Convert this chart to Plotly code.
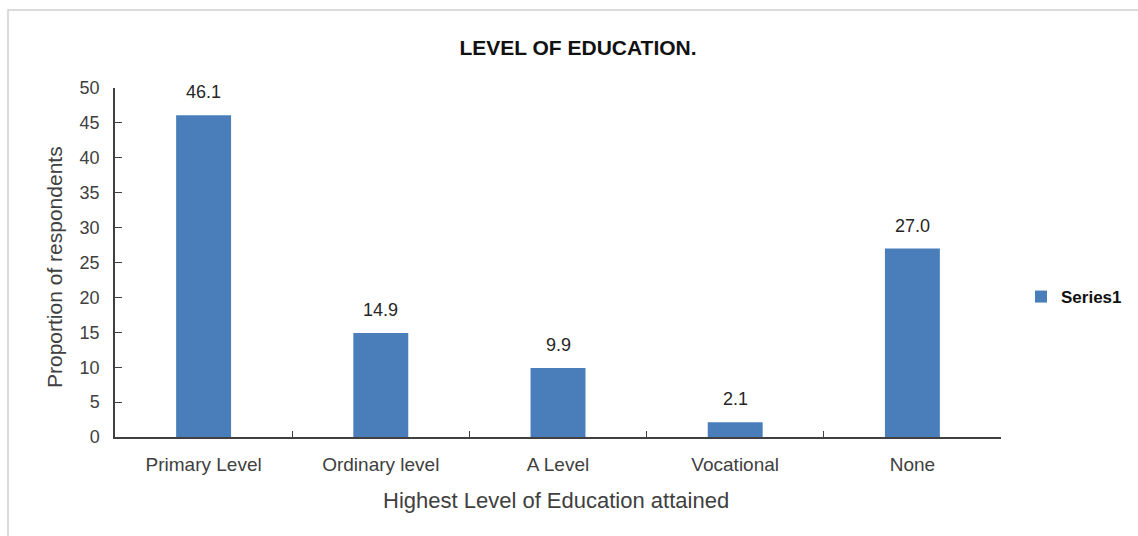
import plotly.graph_objects as go

categories = ["Primary Level", "Ordinary level", "A Level", "Vocational", "None"]
values = [46.1, 14.9, 9.9, 2.1, 27.0]
series_name = "Series1"
y_ticks = [0, 5, 10, 15, 20, 25, 30, 35, 40, 45, 50]

W, H = 1138, 536
L, R, T, B = 115, 1001, 88, 437
pw, ph = R - L, B - T

def px(x):
    return (x - L) / pw

def py(y):
    return (B - y) / ph

FONT = "Liberation Sans, Arial, sans-serif"
fig = go.Figure()
fig.add_trace(go.Bar(
    x=categories, y=values, name=series_name,
    marker=dict(color="#4a7ebb", line=dict(width=0)),
    showlegend=True,
))

label_annotations = [
    dict(x=c, y=v, text=f"{v:.1f}", xref="x", yref="y", showarrow=False,
         yanchor="bottom", yshift=11,
         font=dict(family=FONT, size=18, color="#262626"))
    for c, v in zip(categories, values)
]

fig.update_layout(
    width=W, height=H,
    margin=dict(l=L, r=W - R, t=T, b=H - B, autoexpand=False),
    paper_bgcolor="white", plot_bgcolor="white",
    bargap=0.69,
    title=dict(text="<b>LEVEL OF EDUCATION.</b>", x=578 / W, xanchor="center",
               y=1 - 48 / H, yanchor="middle",
               font=dict(family=FONT, size=21, color="#111111")),
    legend=dict(xref="container", yref="container", x=1021 / W, y=1 - 297 / H,
                xanchor="left", yanchor="middle",
                font=dict(family=FONT, size=17, color="#111111", weight="bold"),
                bgcolor="rgba(0,0,0,0)", itemwidth=30),
    xaxis=dict(showline=True, linecolor="#404040", linewidth=1.5,
               ticks="inside", ticklen=6, tickcolor="#404040",
               tickson="boundaries", showgrid=False,
               tickfont=dict(family=FONT, size=19, color="#404040"),
               ticklabelstandoff=9),
    yaxis=dict(range=[0, 50], tickvals=y_ticks, showline=True,
               linecolor="#404040", linewidth=1.5,
               ticks="inside", ticklen=7, tickcolor="#404040",
               showgrid=False, zeroline=False,
               tickfont=dict(family=FONT, size=18, color="#404040"),
               ticklabelstandoff=10),
    annotations=label_annotations + [
        dict(text="Proportion of respondents", xref="paper", yref="paper",
             x=px(54), y=py(267), xanchor="center", yanchor="middle",
             textangle=-90, showarrow=False,
             font=dict(family=FONT, size=21, color="#404040")),
        dict(text="Highest Level of Education attained", xref="paper", yref="paper",
             x=px(556), y=py(500), xanchor="center", yanchor="middle",
             showarrow=False,
             font=dict(family=FONT, size=22, color="#404040")),
    ],
    shapes=[dict(type="rect", xref="paper", yref="paper",
                 x0=px(8), x1=px(1145), y0=py(545), y1=py(10),
                 line=dict(color="#d0d0d0", width=1.5), layer="below")],
)

fig.write_html("out.html", config={"displayModeBar": False},
               post_script="document.body.style.margin='0';")
